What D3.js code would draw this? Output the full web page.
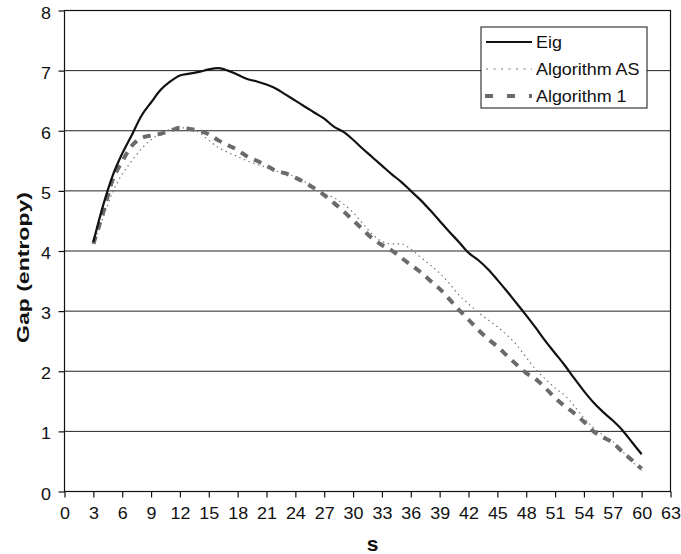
<!DOCTYPE html>
<meta charset="utf-8">
<script src="https://d3js.org/d3.v7.min.js"></script>
<style>
  body { margin: 0; background: #fff; }
  text { font-family: "Liberation Sans", Arial, sans-serif; fill: #111; }
</style>
<div id="chart"></div>
<script>
  // data
  var sValues = d3.range(3, 61);
  var eig = [4.15, 4.75, 5.25, 5.62, 5.93, 6.25, 6.47, 6.68, 6.82, 6.92,
             6.95, 6.98, 7.02, 7.04, 7.0, 6.93, 6.86, 6.82, 6.77, 6.7,
             6.6, 6.5, 6.4, 6.3, 6.2, 6.07, 5.98, 5.85, 5.7, 5.56,
             5.42, 5.28, 5.15, 5.0, 4.85, 4.68, 4.5, 4.32, 4.15, 3.97,
             3.85, 3.7, 3.52, 3.33, 3.13, 2.93, 2.72, 2.5, 2.3, 2.1,
             1.88, 1.67, 1.48, 1.32, 1.18, 1.02, 0.82, 0.62];
  var algAS = [4.12, 4.55, 4.98, 5.28, 5.5, 5.7, 5.85, 5.96, 6.02, 6.05,
               6.04, 5.97, 5.84, 5.72, 5.64, 5.57, 5.5, 5.44, 5.39, 5.33,
               5.28, 5.24, 5.15, 5.03, 4.95, 4.89, 4.78, 4.64, 4.46, 4.28,
               4.16, 4.12, 4.12, 4.03, 3.9, 3.77, 3.63, 3.46, 3.27, 3.12,
               2.98, 2.86, 2.74, 2.6, 2.44, 2.23, 2.03, 1.87, 1.72, 1.6,
               1.42, 1.22, 1.06, 0.94, 0.83, 0.67, 0.5, 0.35];
  var alg1 = [4.12, 4.63, 5.18, 5.49, 5.75, 5.88, 5.92, 5.95, 6.0, 6.05,
              6.03, 6.0, 5.94, 5.84, 5.76, 5.68, 5.57, 5.5, 5.42, 5.33,
              5.29, 5.22, 5.14, 5.04, 4.93, 4.8, 4.66, 4.51, 4.36, 4.21,
              4.1, 4.01, 3.89, 3.77, 3.65, 3.51, 3.37, 3.2, 3.02, 2.86,
              2.69, 2.54, 2.41, 2.26, 2.11, 1.97, 1.87, 1.72, 1.56, 1.42,
              1.3, 1.16, 1.0, 0.9, 0.81, 0.66, 0.52, 0.38];
  var xTicks = d3.range(0, 64, 3);
  var yTicks = d3.range(0, 9, 1);
  var seriesNames = ["Eig", "Algorithm AS", "Algorithm 1"];

  var margin = {top: 10.5, right: 10, bottom: 62.5, left: 64.5},
      width = 681 - margin.left - margin.right,
      height = 554 - margin.top - margin.bottom;

  var svg = d3.select("#chart")
    .append("svg")
      .attr("width", 681)
      .attr("height", 554)
    .append("g")
      .attr("transform", "translate(" + margin.left + "," + margin.top + ")");

  var x = d3.scaleLinear().domain([0, 63]).range([0, width - 0.5]);
  var y = d3.scaleLinear().domain([0, 8]).range([height, 0]);

  // gridlines
  svg.append("g")
    .selectAll("line")
    .data(yTicks.slice(1, -1))
    .enter()
    .append("line")
      .attr("x1", 0)
      .attr("x2", x(63))
      .attr("y1", function(d) { return y(d); })
      .attr("y2", function(d) { return y(d); })
      .attr("stroke", "#222")
      .attr("stroke-width", 1);

  // frame
  svg.append("rect")
    .attr("x", 0).attr("y", 0)
    .attr("width", x(63)).attr("height", height)
    .attr("fill", "none")
    .attr("stroke", "#111")
    .attr("stroke-width", 1.2);

  // axes (text is a bit wider than plain Arial in the original)
  var xAxis = svg.append("g")
    .attr("transform", "translate(0," + height + ")")
    .call(d3.axisBottom(x).tickValues(xTicks).tickSize(6).tickPadding(4));
  var yAxis = svg.append("g")
    .call(d3.axisLeft(y).tickValues(yTicks).tickSize(6).tickPadding(5));
  [xAxis, yAxis].forEach(function(a) {
    a.select(".domain").remove();
    a.selectAll("line").attr("stroke", "#111").attr("stroke-width", 1.2);
    a.selectAll("text")
      .style("font-size", "16px")
      .style("font-family", "'Liberation Sans', Arial, sans-serif")
      .attr("fill", "#111")
      .attr("transform", "scale(1.12,1)");
  });
  xAxis.selectAll("text").attr("dy", "1.1em");
  yAxis.selectAll("text").attr("x", -12.1).attr("dy", "0.47em");

  // lines
  var line = function(vals) {
    return d3.line()
      .x(function(d, i) { return x(sValues[i]); })
      .y(function(d) { return y(d); })
      .curve(d3.curveMonotoneX)(vals);
  };
  var styles = [
    {data: eig, color: "#111", width: 2.2, dash: null, legendDash: null},
    {data: algAS, color: "#777", width: 1.2, dash: "1.5,3.5", legendDash: "2,5.5"},
    {data: alg1, color: "#6a6a6a", width: 4, dash: "8,7", legendDash: "8,14"}
  ];
  styles.slice().reverse().forEach(function(s) {
    svg.append("path")
      .attr("d", line(s.data))
      .attr("fill", "none")
      .attr("stroke", s.color)
      .attr("stroke-width", s.width)
      .attr("stroke-dasharray", s.dash);
  });

  // axis labels
  svg.append("text")
    .attr("x", x(31.5) + 5)
    .attr("y", height + 59)
    .attr("text-anchor", "middle")
    .style("font-size", "21px")
    .style("font-weight", "bold")
    .text("s");
  svg.append("text")
    .attr("transform", "rotate(-90)")
    .attr("x", -257)
    .attr("y", -35.5)
    .attr("text-anchor", "middle")
    .attr("textLength", 151)
    .attr("lengthAdjust", "spacingAndGlyphs")
    .style("font-size", "17px")
    .style("font-weight", "bold")
    .text("Gap (entropy)");

  // legend
  var legend = svg.append("g")
    .attr("transform", "translate(" + (481 - margin.left) + "," + (27 - margin.top) + ")");
  legend.append("rect")
    .attr("width", 166).attr("height", 81)
    .attr("fill", "#fff")
    .attr("stroke", "#111")
    .attr("stroke-width", 1);
  seriesNames.forEach(function(name, i) {
    var yy = 15 + i * 27;
    legend.append("line")
      .attr("x1", i == 2 ? 4 : 5).attr("x2", 51)
      .attr("y1", yy).attr("y2", yy)
      .attr("stroke", styles[i].color)
      .attr("stroke-width", styles[i].width)
      .attr("stroke-dasharray", styles[i].legendDash);
    legend.append("text")
      .attr("transform", "translate(55," + yy + ") scale(1.12,1)")
      .attr("dy", "0.36em")
      .style("font-size", "16px")
      .text(name);
  });
</script>
